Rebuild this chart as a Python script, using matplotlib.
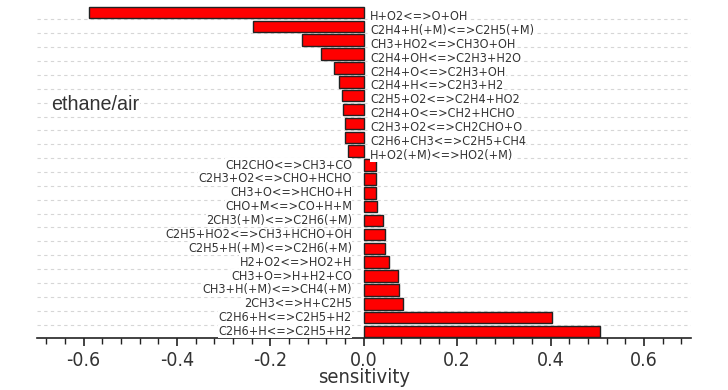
import matplotlib
matplotlib.use("Agg")
import matplotlib.pyplot as plt
from matplotlib import font_manager as fm
from matplotlib.ticker import MultipleLocator

# reactions, top to bottom, with their sensitivity
reactions = [
    "H+O2<=>O+OH",
    "C2H4+H(+M)<=>C2H5(+M)",
    "CH3+HO2<=>CH3O+OH",
    "C2H4+OH<=>C2H3+H2O",
    "C2H4+O<=>C2H3+OH",
    "C2H4+H<=>C2H3+H2",
    "C2H5+O2<=>C2H4+HO2",
    "C2H4+O<=>CH2+HCHO",
    "C2H3+O2<=>CH2CHO+O",
    "C2H6+CH3<=>C2H5+CH4",
    "H+O2(+M)<=>HO2(+M)",
    "CH2CHO<=>CH3+CO",
    "C2H3+O2<=>CHO+HCHO",
    "CH3+O<=>HCHO+H",
    "CHO+M<=>CO+H+M",
    "2CH3(+M)<=>C2H6(+M)",
    "C2H5+HO2<=>CH3+HCHO+OH",
    "C2H5+H(+M)<=>C2H6(+M)",
    "H2+O2<=>HO2+H",
    "CH3+O=>H+H2+CO",
    "CH3+H(+M)<=>CH4(+M)",
    "2CH3<=>H+C2H5",
    "C2H6+H<=>C2H5+H2",
    "C2H6+H<=>C2H5+H2",
]
sensitivity = [
    -0.589, -0.237, -0.132, -0.092, -0.063, -0.054, -0.047, -0.045,
    -0.041, -0.041, -0.034,
    0.025, 0.027, 0.027, 0.029, 0.040, 0.045, 0.045, 0.054,
    0.073, 0.075, 0.083, 0.403, 0.505,
]
mixture = "ethane/air"

# look for a condensed sans face (Arial Narrow look), else plain Liberation Sans
narrow_file = None
sizes = None
for key, sz in [("LiberationSansNarrow-Regular", (11, 16.5, 17.5)),
                ("DejaVuSansCondensed.ttf", (9, 14, 14.5))]:
    for f in fm.fontManager.ttflist:
        if key in f.fname:
            narrow_file = f.fname
            sizes = sz
            break
    if narrow_file:
        break

if narrow_file:
    fp_lab = fm.FontProperties(fname=narrow_file, size=sizes[0])
    fp_tick = fm.FontProperties(fname=narrow_file, size=sizes[1])
    fp_xlab = fm.FontProperties(fname=narrow_file, size=sizes[2])
else:
    fp_lab = fm.FontProperties(family=["Liberation Sans", "DejaVu Sans"], size=10)
    fp_tick = fm.FontProperties(family=["Liberation Sans", "DejaVu Sans"], size=14)
    fp_xlab = fm.FontProperties(family=["Liberation Sans", "DejaVu Sans"], size=15)
fp_mix = fm.FontProperties(family=["Liberation Sans", "DejaVu Sans"], size=14.2)

txt_color = "#333333"

fig = plt.figure(figsize=(7.28, 3.9), dpi=100)
ax = fig.add_axes([0.0508, 0.1333, 0.898, 0.8667])

n = len(reactions)
ypos = [n - 1 - i for i in range(n)]

# dashed separators between bars
ax.hlines([k + 0.5 for k in range(n - 1)], -0.7, 0.7, colors="#d6d6d6",
          linestyles=(0, (3, 3)), linewidth=0.8, zorder=0)

ax.barh(ypos, sensitivity, height=0.83, color="#ff0000", edgecolor="#222222",
        linewidth=1.0, zorder=2)

for y, s, lab in zip(ypos, sensitivity, reactions):
    if s < 0:
        ax.annotate(lab, (0, y), xytext=(4.5, -3), textcoords="offset points",
                    ha="left", va="center", fontproperties=fp_lab, color=txt_color,
                    bbox=dict(facecolor="white", edgecolor="none", pad=0.3),
                    zorder=3)
    else:
        ax.annotate(lab, (0, y), xytext=(-8.5, 0), textcoords="offset points",
                    ha="right", va="center", fontproperties=fp_lab, color=txt_color,
                    bbox=dict(facecolor="white", edgecolor="none", pad=0.3),
                    zorder=3)

ax.text(-0.670, 16.0, mixture, fontproperties=fp_mix, color=txt_color,
        va="baseline", bbox=dict(facecolor="white", edgecolor="none", pad=0.5),
        zorder=3)

ax.set_xlim(-0.7, 0.7)
ax.set_ylim(-0.47, n - 0.1)
ax.xaxis.set_minor_locator(MultipleLocator(0.04))
ticks = [-0.6, -0.4, -0.2, 0.0, 0.2, 0.4, 0.6]
ax.set_xticks(ticks)
ax.set_xticklabels(["%.1f" % t for t in ticks], fontproperties=fp_tick,
                   color=txt_color)
ax.set_yticks([])
ax.tick_params(axis="x", which="major", length=6, width=1.2, color="#222222",
               pad=3)
ax.tick_params(axis="x", which="minor", length=4, width=1.0, color="#222222")
ax.set_xlabel("sensitivity", fontproperties=fp_xlab, color=txt_color,
              labelpad=-1)

for side in ["top", "right", "left"]:
    ax.spines[side].set_visible(False)
ax.spines["bottom"].set_linewidth(1.2)
ax.spines["bottom"].set_color("#222222")

fig.savefig("out.png", dpi=100)
